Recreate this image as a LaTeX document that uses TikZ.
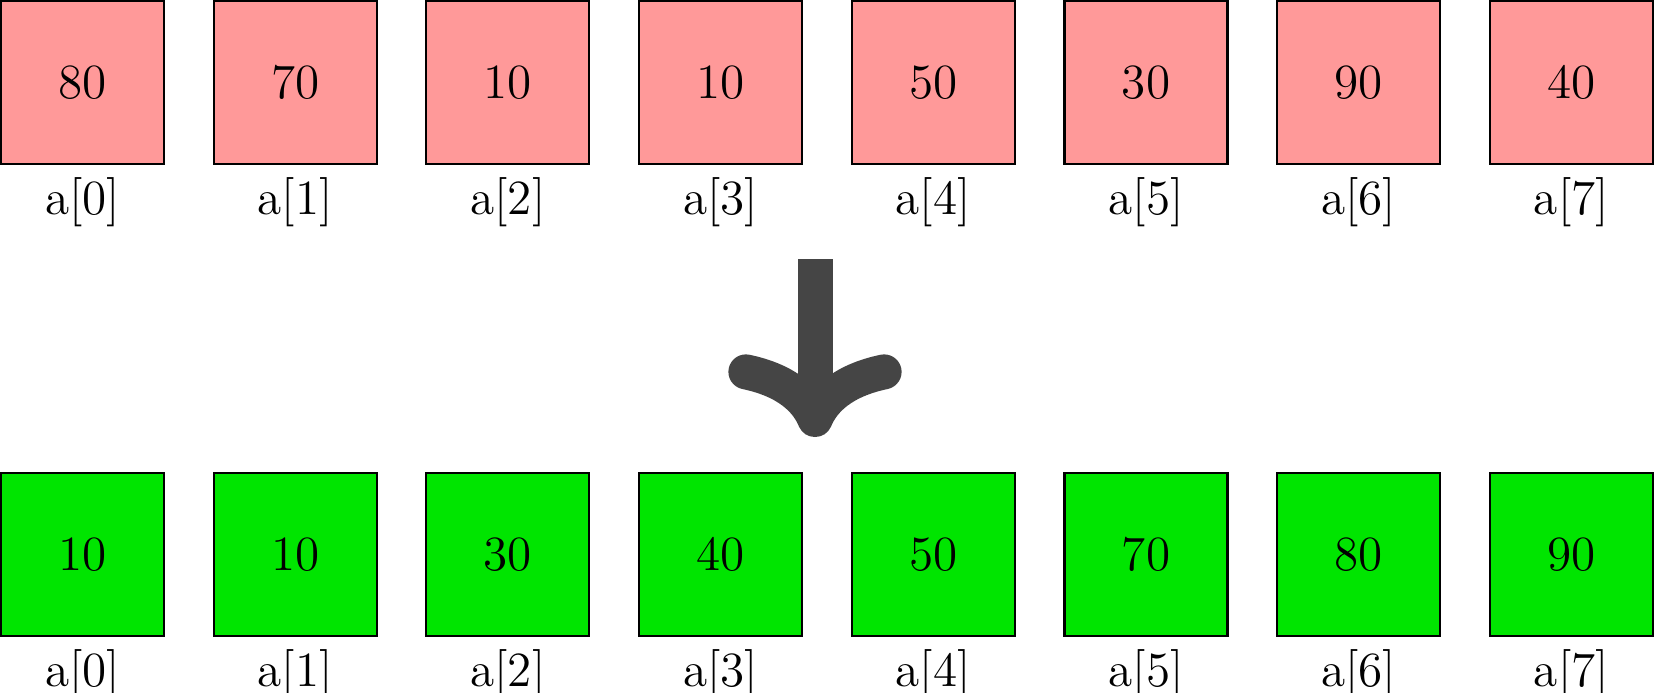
\documentclass[tikz,border=0pt]{standalone}
\usepackage{tikz}
\usetikzlibrary{positioning, arrows.meta}

\begin{document}
\begin{tikzpicture}[
	cell/.style = {draw, line width = 0.6pt, minimum size = 1.63cm, inner sep = 0pt, font = \fontsize{14}{17}\selectfont},
	oldcell/.style = {cell, fill = red!40},
	newcell/.style = {cell, fill = green!90!black},
	idx/.style = {font = \fontsize{14}{17}\selectfont}
]
\useasboundingbox (0,0) rectangle (16.54,-6.93);

\foreach \v [count = \i from 0] in {80,70,10,10,50,30,90,40} {
	\node[oldcell] (old\i) at ({0.825+2.127*\i}, -0.825) {\v};
	\node[idx, below = 0pt of old\i] (oldlab\i) {a[\i]};
}

\foreach \v [count = \i from 0] in {10,10,30,40,50,70,80,90} {
	\node[newcell] (new\i) at ({0.825+2.127*\i}, -5.547) {\v};
	\node[idx, below = 0pt of new\i] (newlab\i) {a[\i]};
}

\coordinate (from) at (8.15,-2.593);
\coordinate (to) at (8.15,-4.37);
\draw[line width = 0.35cm, color = black!73, -{Computer Modern Rightarrow}] (from) -- (to);
\end{tikzpicture}
\end{document}
